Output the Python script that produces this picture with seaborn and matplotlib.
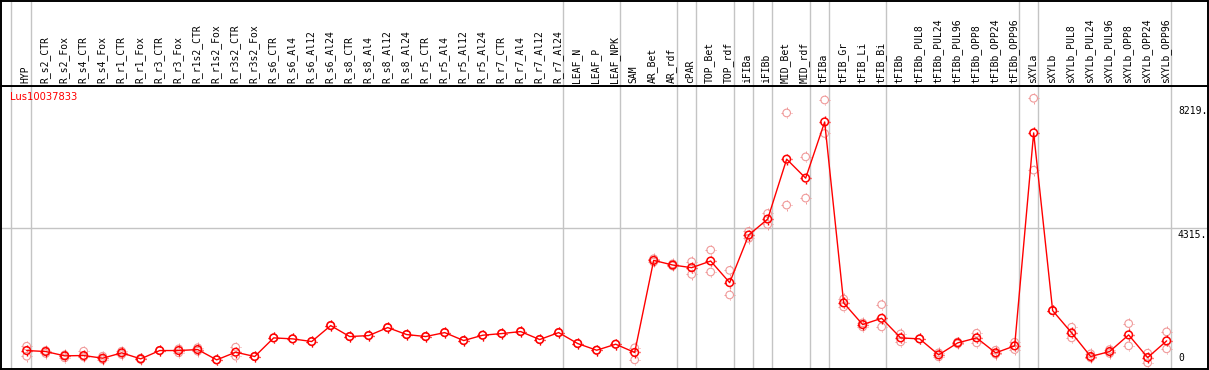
import numpy as np
import pandas as pd
import matplotlib
matplotlib.use("Agg")
import matplotlib.pyplot as plt
from matplotlib.path import Path
import matplotlib.transforms as mtransforms
import seaborn as sns

# ---------------- data ----------------
gene = "Lus10037833"

samples = ["HYP",
           "R_s2_CTR", "R_s2_Fox", "R_s4_CTR", "R_s4_Fox", "R_r1_CTR", "R_r1_Fox",
           "R_r3_CTR", "R_r3_Fox", "R_r1s2_CTR", "R_r1s2_Fox", "R_r3s2_CTR", "R_r3s2_Fox",
           "R_s6_CTR", "R_s6_Al4", "R_s6_Al12", "R_s6_Al24",
           "R_s8_CTR", "R_s8_Al4", "R_s8_Al12", "R_s8_Al24",
           "R_r5_CTR", "R_r5_Al4", "R_r5_Al12", "R_r5_Al24",
           "R_r7_CTR", "R_r7_Al4", "R_r7_Al12", "R_r7_Al24",
           "LEAF_N", "LEAF_P", "LEAF_NPK",
           "SAM", "AR_Bet", "AR_rdf", "cPAR", "TOP_Bet", "TOP_rdf",
           "iFIBa", "iFIBb", "MID_Bet", "MID_rdf", "tFIBa",
           "tFIB_Gr", "tFIB_Li", "tFIB_Bi",
           "tFIBb", "tFIBb_PUL8", "tFIBb_PUL24", "tFIBb_PUL96",
           "tFIBb_OPP8", "tFIBb_OPP24", "tFIBb_OPP96",
           "sXYLa", "sXYLb", "sXYLb_PUL8", "sXYLb_PUL24", "sXYLb_PUL96",
           "sXYLb_OPP8", "sXYLb_OPP24", "sXYLb_OPP96"]

# sizes of the sample groups separated by grey lines
group_sizes = [1, 28, 3, 3, 1, 2, 1, 1, 2, 1, 3, 7, 1, 7]

mean_expr = [471, 440, 304, 314, 230, 398, 209, 471, 471, 502, 178, 419, 283,
             869, 838, 754, 1256, 911, 942, 1193, 974, 911, 1036, 785, 953,
             1005, 1068, 817, 1036, 691, 481, 670,
             410, 3308, 3162, 3078, 3287, 2607,
             4104, 4607, 6492, 5895, 7663,
             1969, 1288, 1486,
             869, 838, 335, 712, 869, 398, 618,
             7318, 1727, 1026, 283, 440, 963, 251, 775]

rep_high = [606, 470, 336, 450, 293, 450, 230, 471, 524, 560, 178, 576, 283,
            869, 838, 754, 1256, 911, 942, 1193, 974, 911, 1036, 785, 953,
            1005, 1068, 817, 1036, 691, 481, 670,
            556, 3360, 3200, 3266, 3633, 2994,
            4219, 4784, 7946, 6564, 8354,
            2095, 1341, 1916,
            995, 838, 398, 740, 1015, 481, 733,
            8408, 1727, 1204, 367, 502, 1319, 387, 1058]

rep_low = [292, 380, 241, 272, 188, 345, 190, 471, 398, 450, 178, 293, 283,
           869, 838, 754, 1256, 911, 942, 1193, 974, 911, 1036, 785, 953,
           1005, 1068, 817, 1036, 691, 481, 670,
           178, 3256, 3130, 2868, 2942, 2220,
           3999, 4438, 5047, 5267, 7300,
           1843, 1215, 1215,
           744, 838, 272, 680, 712, 356, 502,
           6146, 1727, 869, 241, 380, 618, 84, 524]

ytick_values = [0, 4315, 8219]
ytick_labels = ["0", "4315.", "8219."]

# ---------------- figure ----------------
sns.set_style("white")
plt.rcParams["font.family"] = ["DejaVu Sans"]

W, H = 1209, 370
fig = plt.figure(figsize=(W / 100, H / 100), dpi=100)

ax = fig.add_axes([1 / W, 1.5 / H, 1206.5 / W, (369 - 86.5) / H])
hdr = fig.add_axes([1 / W, (370 - 86) / H, 1206.5 / W, 85.5 / H])

pos = np.arange(len(samples))
df_mean = pd.DataFrame({"pos": pos, "value": mean_expr, "sample": samples})
df_rep = pd.DataFrame({"pos": np.concatenate([pos, pos]),
                       "value": np.concatenate([rep_high, rep_low])})

xlim = (-1.353, 62.15)
ylim = (-94, 8794)

# marker pieces: four small ticks around the circle
tk_in, tk_out = 1.0, 1.4
tick_path = Path([(0, tk_in), (0, tk_out), (0, -tk_in), (0, -tk_out),
                  (tk_in, 0), (tk_out, 0), (-tk_in, 0), (-tk_out, 0)],
                 [Path.MOVETO, Path.LINETO] * 4)

grey = "#c4c4c4"
ends = np.cumsum(group_sizes) - 1
bounds = [-0.84] + [e + 0.21 for e in ends]
for a in (ax, hdr):
    for b in bounds:
        a.axvline(b, color=grey, lw=1.0, zorder=0)
ax.axhline(4315, color=grey, lw=1.0, zorder=0)

circ_s = 30      # ~7.5 px diameter
tick_s = 30 * (1.4 ** 2) * 1.05

for df, col, lw, z in [(df_rep, "#f09a9a", 0.8, 2), (df_mean, "#ff0000", 1.1, 4)]:
    sns.scatterplot(data=df, x="pos", y="value", ax=ax, marker="o", s=circ_s,
                    facecolors="none", edgecolor=col, linewidth=lw, zorder=z, legend=False)
    sns.scatterplot(data=df, x="pos", y="value", ax=ax, marker=tick_path, s=tick_s,
                    facecolors="none", edgecolor=col, linewidth=lw * 0.9, zorder=z, legend=False)
    if df is df_rep:
        sns.lineplot(data=df_mean, x="pos", y="value", ax=ax, color="#ff0000", lw=1.0,
                     zorder=3, legend=False)

ax.set_xlim(*xlim)
ax.set_ylim(*ylim)
ax.set_xticks([])
ax.set_yticks([])
ax.set_xlabel("")
ax.set_ylabel("")
for sp in ax.spines.values():
    sp.set_color("black")
    sp.set_linewidth(1.4)
    sp.set_visible(True)

# gene name
ax.text(9 / 1206.5, 1 - 11 / 282.5, gene, transform=ax.transAxes, color="#ff0000",
        fontsize=7.2, ha="left", va="center", family="DejaVu Sans")

# y labels on the right
trans = mtransforms.blended_transform_factory(ax.transAxes, ax.transData)
for v, lab in zip(ytick_values, ytick_labels):
    ax.text(1177 / 1206.5, v + (80 if v == 0 else -40), lab, transform=trans,
            fontsize=7, family="DejaVu Sans Mono", ha="left",
            va="bottom" if v == 0 else "top", color="black")

# header labels
hdr.set_xlim(*xlim)
hdr.set_ylim(0, 1)
hdr.set_xticks([])
hdr.set_yticks([])
for sp in hdr.spines.values():
    sp.set_color("black")
    sp.set_linewidth(1.4)
for i, lab in enumerate(samples):
    hdr.text(i - 0.06, 0.03, lab, rotation=90, ha="center", va="bottom",
             fontsize=7, family="DejaVu Sans Mono", color="black")

fig.savefig("out.png", dpi=100)
